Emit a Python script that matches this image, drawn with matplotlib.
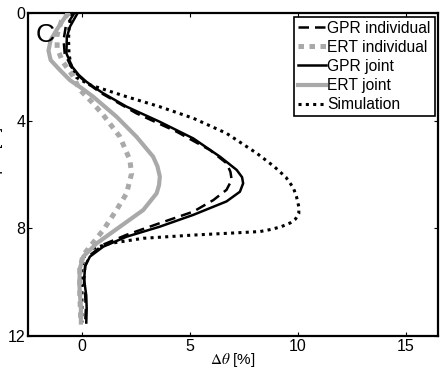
import matplotlib
matplotlib.use("Agg")
import matplotlib.pyplot as plt

plt.rcParams['font.family'] = ['Liberation Sans', 'DejaVu Sans']
plt.rcParams['mathtext.fontset'] = 'stix'

# GPR individual (black dashed)
gpr_ind_d = [0, 0.5, 1.0, 1.5, 2.0, 2.3, 2.55, 2.75, 2.98, 3.3, 3.73, 4.41, 5.09, 5.58, 5.9, 6.2, 6.57, 6.95, 7.38, 7.81, 8.24, 8.6, 9.0, 9.4, 10.0, 10.5, 11.0, 11.5]
gpr_ind_x = [-0.35, -0.75, -0.85, -0.8, -0.5, -0.2, 0.15, 0.5, 0.9, 1.6, 2.53, 4.39, 5.93, 6.7, 6.88, 6.94, 6.7, 6.09, 5.16, 3.6, 2.07, 1.0, 0.37, 0.15, 0.1, 0.15, 0.18, 0.15]

# ERT individual (gray dashed)
ert_ind_d = [0, 0.3, 0.8, 1.3, 1.8, 2.3, 2.86, 3.3, 3.79, 4.6, 5.46, 5.96, 6.7, 7.32, 8.06, 8.68, 9.0, 9.5, 10.5, 11.5]
ert_ind_x = [-0.6, -0.95, -1.15, -1.15, -0.9, -0.45, -0.09, 0.45, 0.99, 1.76, 2.22, 2.3, 2.07, 1.6, 0.99, 0.37, 0.05, -0.1, -0.1, -0.05]

# GPR joint (black solid)
gpr_joint_d = [0, 0.5, 0.9, 1.5, 2.0, 2.3, 2.55, 2.75, 2.98, 3.48, 4.04, 4.66, 5.34, 5.83, 6.1, 6.33, 6.64, 7.0, 7.5, 7.94, 8.31, 8.68, 9.05, 9.4, 9.9, 10.5, 11.0, 11.5]
gpr_joint_x = [-0.2, -0.55, -0.7, -0.72, -0.45, -0.15, 0.2, 0.55, 0.98, 2.07, 3.6, 5.16, 6.4, 7.17, 7.42, 7.47, 7.32, 6.7, 5.16, 3.6, 2.07, 0.99, 0.37, 0.15, 0.1, 0.2, 0.22, 0.2]

# ERT joint (gray solid)
ert_joint_d = [0, 0.6, 1.0, 1.4, 1.75, 2.12, 2.5, 2.8, 3.11, 3.85, 4.6, 5.34, 5.7, 6.08, 6.4, 6.7, 7.32, 7.94, 8.56, 9.05, 9.5, 10.1, 11.0, 11.5]
ert_joint_x = [-0.65, -1.15, -1.45, -1.55, -1.45, -1.02, -0.55, 0.0, 0.52, 1.6, 2.53, 3.3, 3.5, 3.61, 3.57, 3.46, 2.84, 1.76, 0.68, 0.06, -0.1, -0.12, -0.05, -0.05]

# Simulation (black dotted)
sim_d = [0, 0.5, 1.0, 1.5, 2.0, 2.4, 2.67, 3.11, 3.48, 3.91, 4.47, 5.21, 5.7, 6.1, 6.5, 6.85, 7.2, 7.45, 7.65, 7.8, 7.95, 8.05, 8.12, 8.18, 8.25, 8.37, 8.56, 8.75, 8.87, 9.5, 10.5, 11.5]
sim_x = [-0.45, -0.6, -0.62, -0.6, -0.5, -0.25, 0.37, 2.07, 3.6, 5.16, 6.7, 8.1, 8.9, 9.45, 9.8, 9.95, 10.05, 10.05, 9.9, 9.65, 9.2, 8.7, 8.25, 6.85, 5.16, 2.84, 1.3, 0.5, 0.15, 0.0, 0.0, 0.0]

labels = ['GPR individual', 'ERT individual', 'GPR joint', 'ERT joint', 'Simulation']
gray = '#a9a9a9'

fig = plt.figure(figsize=(4.4, 3.71), dpi=100)
ax = fig.add_axes([28/440, 1 - 336/371, 410/440, 323/371])

h_sim, = ax.plot(sim_x, sim_d, color='black', lw=2.2, ls=(0, (1, 1.4)), zorder=2)
h_ei, = ax.plot(ert_ind_x, ert_ind_d, color=gray, lw=3.6, ls=(0, (1.1, 1.1)), zorder=3)
h_ej, = ax.plot(ert_joint_x, ert_joint_d, color=gray, lw=3.0, ls='-', zorder=3)
h_gi, = ax.plot(gpr_ind_x, gpr_ind_d, color='black', lw=1.8, ls=(0, (4.2, 2.4)), zorder=4)
h_gj, = ax.plot(gpr_joint_x, gpr_joint_d, color='black', lw=1.8, ls='-', zorder=5)

ax.set_xlim(-2.5, 16.5)
ax.set_ylim(12, 0)
ax.set_xticks([0, 5, 10, 15])
ax.set_yticks([0, 4, 8, 12])
ax.tick_params(direction='in', length=3, width=0.8, labelsize=11.5, pad=2,
               top=True, right=True)
for s in ax.spines.values():
    s.set_linewidth(1.6)

ax.set_xlabel(r'$\Delta\theta$ [%]', fontsize=11)
ax.xaxis.set_label_coords(0.5, -0.046)
fig.text(3/440, 1 - 160/371, 'Depth [m]', rotation=90, ha='right', va='center', fontsize=11)

ax.text(-1.72, 0.82, 'C', fontsize=19, ha='center', va='center')

leg = ax.legend([h_gi, h_ei, h_gj, h_ej, h_sim], labels, loc='upper right',
                bbox_to_anchor=(0.992, 0.988), borderaxespad=0, fontsize=11.25,
                handlelength=1.8, handletextpad=0.1, labelspacing=0.26,
                borderpad=0.25, fancybox=False, framealpha=1, edgecolor='black')
leg.get_frame().set_linewidth(1.2)

fig.savefig('out.png', dpi=100)
